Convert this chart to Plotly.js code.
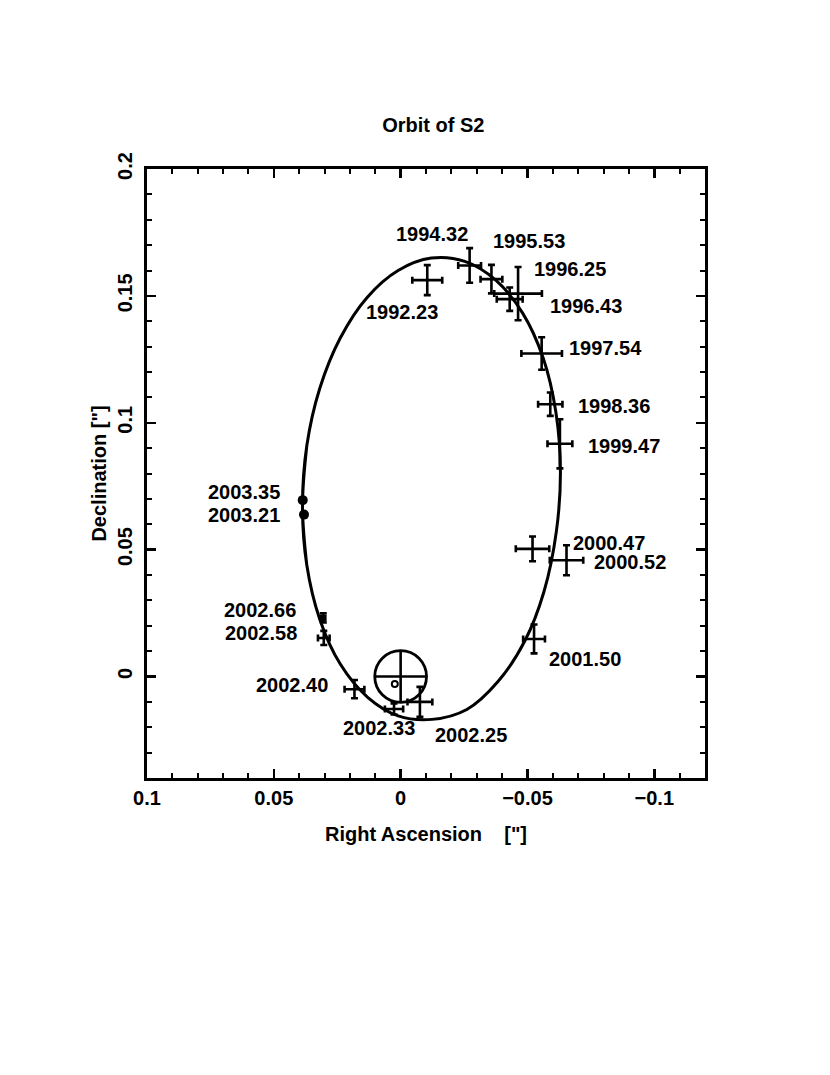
<!DOCTYPE html>
<html>
<head>
<meta charset="utf-8">
<script src="https://cdn.plot.ly/plotly-3.0.1.min.js"></script>
<style>html,body{margin:0;padding:0;background:#fff;}#chart{width:830px;height:1075px;}</style>
</head>
<body>
<div id="chart"></div>
<script>
// ---- data ----
const epochs = ["1992.23","1994.32","1995.53","1996.25","1996.43","1997.54","1998.36","1999.47","2000.47","2000.52","2001.50","2002.25","2002.33","2002.40","2002.58","2002.66","2003.21","2003.35"];
const ra     = [-0.0105,-0.0272,-0.0358,-0.0463,-0.0430,-0.0556,-0.0590,-0.0628,-0.0520,-0.0654,-0.0526,-0.0076, 0.0026, 0.0182, 0.0303, 0.0305, 0.0381, 0.0386];
const dec    = [ 0.1562, 0.1620, 0.1566, 0.1509, 0.1487, 0.1273, 0.1073, 0.0917, 0.0503, 0.0458, 0.0148,-0.0100,-0.0128,-0.0050, 0.0152, 0.0231, 0.0638, 0.0695];
const raErr  = [ 0.0059, 0.0045, 0.0043, 0.0094, 0.0051, 0.0080, 0.0048, 0.0049, 0.0066, 0.0066, 0.0043, 0.0049, 0.0036, 0.0039, 0.0023, 0.0008, 0.0004, 0.0004];
const decErr = [ 0.0059, 0.0068, 0.0056, 0.0105, 0.0046, 0.0064, 0.0046, 0.0097, 0.0049, 0.0059, 0.0057, 0.0059, 0.0022, 0.0036, 0.0028, 0.0018, 0.0007, 0.0007];

// fitted orbit: points read along the drawn ellipse (closed loop, small overlap at the left side)
const orbitRA  = [ 0.0370, 0.0387, 0.0370, 0.0319, 0.0238, 0.0133, 0.0010,-0.0121,-0.0253,-0.0375,-0.0481,-0.0562,-0.0612,-0.0630,-0.0614,-0.0565,-0.0490,-0.0383,-0.0261,-0.0124, 0.0010, 0.0130, 0.0238, 0.0319, 0.0370, 0.0387, 0.0370];
const orbitDec = [ 0.0439, 0.0672, 0.0909, 0.1135, 0.1334, 0.1493, 0.1600, 0.1649, 0.1636, 0.1562, 0.1432, 0.1255, 0.1042, 0.0809, 0.0572, 0.0334, 0.0141,-0.0021,-0.0130,-0.0169,-0.0155,-0.0082, 0.0049, 0.0226, 0.0439, 0.0672, 0.0909];

// Sgr A* position and its error circle radius, and the fitted focus
const sgrA = {ra: 0.0, dec: 0.0, radius: 0.0102};
const focus = {ra: [0.0023], dec: [-0.0030]};

const xTitle = 'Right Ascension\u00a0\u00a0\u00a0\u00a0["]';
const yTitle = 'Declination ["]';
const chartTitle = 'Orbit of S2';

// ---- label placement (pixel offsets from each point) ----
const labelShiftX = [-25, -38, 38, 52, 76, 64, 64, 64, 76, 63, 51, 51, -15, -62, -63, -63, -60, -59];
const labelShiftY = [-32, 31, 38, 25, -7, 5, -2, -2, 6, -2, -20, -33, -19, 4, 5, 8, 0, 8];

const FONT = {family: '"Liberation Sans", Arial, Helvetica, sans-serif', size: 20, color: '#000', weight: 700};

const nCross = 16;
const errStyle = {type: 'data', visible: true, color: '#000', thickness: 2.6, width: 3.5};

const traces = [
  {
    x: orbitRA, y: orbitDec, mode: 'lines', type: 'scatter',
    line: {color: '#000', width: 3, shape: 'spline', smoothing: 1},
    hoverinfo: 'skip', showlegend: false
  },
  {
    x: ra.slice(0, nCross), y: dec.slice(0, nCross), mode: 'markers', type: 'scatter',
    marker: {size: 2, color: '#000'},
    error_x: Object.assign({array: raErr.slice(0, nCross)}, errStyle),
    error_y: Object.assign({array: decErr.slice(0, nCross)}, errStyle),
    text: epochs.slice(0, nCross), showlegend: false
  },
  {
    x: ra.slice(nCross), y: dec.slice(nCross), mode: 'markers', type: 'scatter',
    marker: {size: 10, color: '#000', symbol: 'circle'},
    error_y: Object.assign({array: decErr.slice(nCross)}, errStyle, {thickness: 4, width: 0}),
    text: epochs.slice(nCross), showlegend: false
  },
  {
    x: focus.ra, y: focus.dec, mode: 'markers', type: 'scatter',
    marker: {size: 6, color: '#000', symbol: 'circle-open', line: {width: 2, color: '#000'}},
    showlegend: false
  }
];

const annotations = epochs.map((t, i) => ({
  x: ra[i], y: dec[i], xref: 'x', yref: 'y', text: t, showarrow: false,
  xshift: labelShiftX[i], yshift: labelShiftY[i], font: FONT,
  xanchor: 'center', yanchor: 'middle'
}));

const r = sgrA.radius;
const shapes = [
  {type: 'circle', xref: 'x', yref: 'y', x0: sgrA.ra - r, x1: sgrA.ra + r, y0: sgrA.dec - r, y1: sgrA.dec + r,
   line: {color: '#000', width: 2.8}},
  {type: 'line', xref: 'x', yref: 'y', x0: sgrA.ra - r, x1: sgrA.ra + r, y0: sgrA.dec, y1: sgrA.dec,
   line: {color: '#000', width: 2.6}},
  {type: 'line', xref: 'x', yref: 'y', x0: sgrA.ra, x1: sgrA.ra, y0: sgrA.dec - r, y1: sgrA.dec + r,
   line: {color: '#000', width: 2.6}}
];

const axisCommon = {
  showline: true, linecolor: '#000', linewidth: 3, mirror: 'ticks',
  ticks: 'inside', ticklen: 9, tickwidth: 2.5, tickcolor: '#000',
  minor: {ticks: 'inside', ticklen: 5, tickwidth: 2, tickcolor: '#000', dtick: 0.01, showgrid: false},
  showgrid: false, zeroline: false, tickfont: FONT, dtick: 0.05, tick0: 0,
  autorange: false, fixedrange: true
};

const layout = {
  width: 830, height: 1075,
  margin: {l: 147, r: 125, t: 169, b: 297, pad: 0},
  paper_bgcolor: '#fff', plot_bgcolor: '#fff',
  title: {text: chartTitle, font: FONT, x: 0.513, xanchor: 'center', xref: 'paper', y: 1 - 125/1075, yref: 'container', yanchor: 'middle'},
  xaxis: Object.assign({}, axisCommon, {
    range: [0.1, -0.12],
    ticklabelstandoff: 0,
    title: {text: xTitle, font: FONT, standoff: 19}
  }),
  yaxis: Object.assign({}, axisCommon, {
    range: [-0.04, 0.2],
    tickangle: -90,
    ticklabelstandoff: 4,
    title: {text: yTitle, font: FONT, standoff: 3}
  }),
  shapes: shapes,
  annotations: annotations,
  showlegend: false
};

Plotly.newPlot('chart', traces, layout, {staticPlot: true, displayModeBar: false});
</script>
</body>
</html>
